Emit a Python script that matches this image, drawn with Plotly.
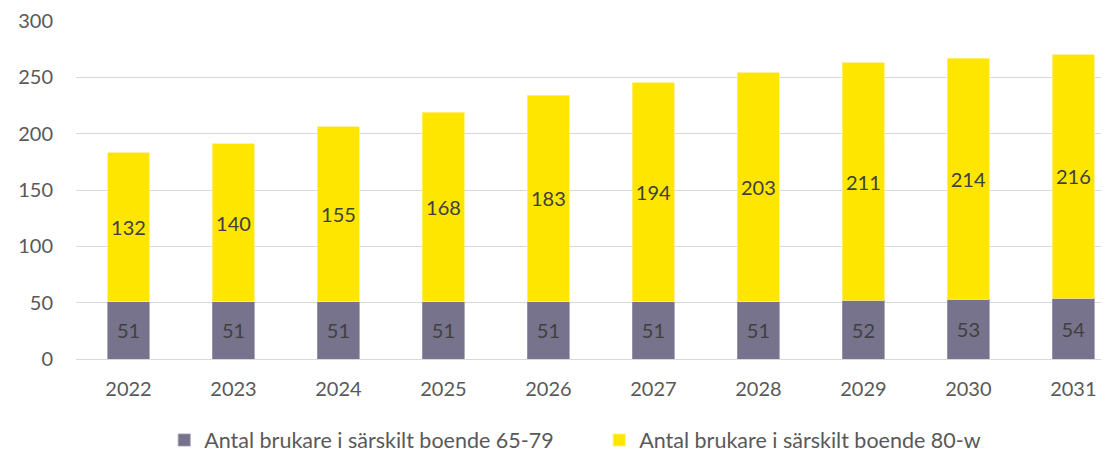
import plotly.graph_objects as go

years = ["2022", "2023", "2024", "2025", "2026", "2027", "2028", "2029", "2030", "2031"]
series_65_79 = [51, 51, 51, 51, 51, 51, 51, 52, 53, 54]
series_80_w = [132, 140, 155, 168, 183, 194, 203, 211, 214, 216]
name_65_79 = "Antal brukare i särskilt boende 65-79"
name_80_w = "Antal brukare i särskilt boende 80-w"
y_ticks = [0, 50, 100, 150, 200, 250, 300]

FONT = "Lato, 'Open Sans', sans-serif"

fig = go.Figure()
fig.add_trace(go.Bar(
    x=years, y=series_65_79, name=name_65_79,
    marker=dict(color="#77738D", line=dict(width=0.8, color="#9C99AE")),
    width=0.4,
    text=[str(v) for v in series_65_79], textposition="inside",
    insidetextanchor="middle", textangle=0,
    textfont=dict(color="#404040", size=20, family=FONT),
))
fig.add_trace(go.Bar(
    x=years, y=series_80_w, name=name_80_w,
    marker=dict(color="#FFE600", line=dict(width=0.8, color="#FFF07A")),
    width=0.4,
    text=[str(v) for v in series_80_w], textposition="inside",
    insidetextanchor="middle", textangle=0,
    textfont=dict(color="#404040", size=20, family=FONT),
))

fig.update_layout(
    barmode="stack",
    width=1101, height=444,
    margin=dict(l=68, r=1, t=13, b=93, autoexpand=False),
    paper_bgcolor="white", plot_bgcolor="white",
    font=dict(family=FONT, color="#595959", size=20),
    uniformtext=dict(mode=False),
    showlegend=True,
    legend=dict(orientation="h", x=0.507, xanchor="center",
                yref="container", y=0.027, yanchor="middle",
                font=dict(size=21.5, color="#595959", family=FONT),
                traceorder="normal", itemwidth=30, entrywidth=390),
    xaxis=dict(type="category", range=[-0.5, 9.33], showgrid=False, showline=False,
               ticks="", tickfont=dict(size=20, color="#595959"), ticklabelstandoff=16),
    yaxis=dict(range=[0, 300], tickvals=y_ticks, showgrid=True, gridcolor="#D9D9D9",
               gridwidth=1.3, zeroline=True, zerolinecolor="#D9D9D9", zerolinewidth=1.3,
               showline=False, ticks="", tickfont=dict(size=20, color="#595959"),
               ticklabelstandoff=22),
)

fig.write_html("out.html")
